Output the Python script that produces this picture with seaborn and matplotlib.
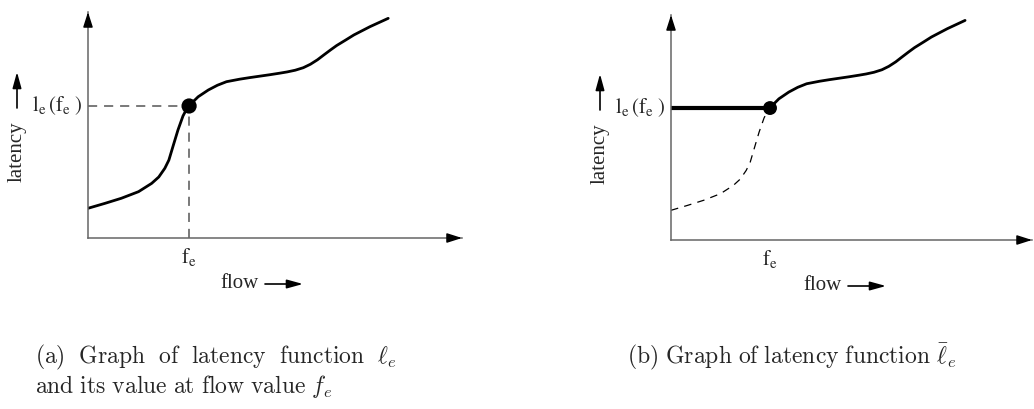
import matplotlib
matplotlib.use("Agg")
import matplotlib.pyplot as plt
import seaborn as sns
import numpy as np

# ---- data ----
flow = [0.00, 0.17, 0.33, 0.50, 0.63, 0.70, 0.76, 0.80, 0.84, 0.89, 0.94,
        0.97, 1.00, 1.05, 1.09, 1.19, 1.28, 1.37, 1.50, 1.60, 1.70, 1.80,
        1.90, 1.97, 2.05, 2.13, 2.20, 2.27, 2.33, 2.40, 2.46, 2.55, 2.63,
        2.79, 2.97]
latency = [0.225, 0.263, 0.301, 0.351, 0.414, 0.462, 0.528, 0.590, 0.692,
           0.818, 0.925, 0.968, 1.000, 1.040, 1.070, 1.121, 1.157, 1.184,
           1.203, 1.215, 1.226, 1.237, 1.249, 1.258, 1.271, 1.290, 1.316,
           1.350, 1.385, 1.425, 1.458, 1.500, 1.538, 1.601, 1.664]
f_e = 1.00
l_fe = 1.00

W, H = 1034, 409
sns.set_theme(style="white")
plt.rcParams["font.family"] = ["Liberation Serif", "DejaVu Serif"]
plt.rcParams["lines.solid_joinstyle"] = "round"
plt.rcParams["lines.solid_capstyle"] = "round"

fig = plt.figure(figsize=(W / 100, H / 100), dpi=100)
fig.patch.set_facecolor("white")

LBL = 15


def make_axes(x0, y0, x1, ytop, xmax, ymax):
    ax = fig.add_axes([x0 / W, (H - y0) / H, (x1 - x0) / W, (y0 - ytop) / H])
    ax.set_xlim(0, xmax)
    ax.set_ylim(0, ymax)
    ax.set_facecolor("none")
    for s in ["top", "right"]:
        ax.spines[s].set_visible(False)
    for s in ["left", "bottom"]:
        ax.spines[s].set_color("#666666")
        ax.spines[s].set_linewidth(1.1)
    ax.set_xticks([])
    ax.set_yticks([])
    ax.annotate("", xy=(1, 0), xycoords="axes fraction", xytext=(0.97, 0),
                arrowprops=dict(arrowstyle="-|>,head_length=0.75,head_width=0.24",
                                color="black", lw=1.1, shrinkA=0, shrinkB=0),
                annotation_clip=False)
    ax.annotate("", xy=(0, 1), xycoords="axes fraction", xytext=(0, 0.95),
                arrowprops=dict(arrowstyle="-|>,head_length=0.75,head_width=0.24",
                                color="black", lw=1.1, shrinkA=0, shrinkB=0),
                annotation_clip=False)
    return ax


def axis_labels(ax, ox, oy):
    fb = H - oy
    ax.annotate("latency", xy=(ox - 71, fb + 86), xycoords="figure pixels",
                rotation=90, ha="center", va="center", fontsize=LBL)
    ax.annotate("", xy=(ox - 71, fb + 166), xycoords="figure pixels",
                xytext=(ox - 71, fb + 130), textcoords="figure pixels",
                arrowprops=dict(arrowstyle="-|>,head_length=0.8,head_width=0.22",
                                color="black", lw=1.2, shrinkA=0, shrinkB=0))
    ax.annotate("flow", xy=(ox + 152, fb - 46), xycoords="figure pixels",
                ha="center", va="center", fontsize=LBL)
    ax.annotate("", xy=(ox + 215, fb - 46), xycoords="figure pixels",
                xytext=(ox + 177, fb - 46), textcoords="figure pixels",
                arrowprops=dict(arrowstyle="-|>,head_length=0.8,head_width=0.22",
                                color="black", lw=1.2, shrinkA=0, shrinkB=0))
    ax.annotate(r"$\mathrm{l_e\,(f_e\;)}$", xy=(0, l_fe), xycoords="data",
                xytext=(-6, 0), textcoords="offset pixels", ha="right",
                va="center", fontsize=LBL, math_fontfamily="stix")
    ax.annotate(r"$\mathrm{f_e}$", xy=(f_e, 0), xycoords="data",
                xytext=(0, -19), textcoords="offset pixels", ha="center",
                va="center", fontsize=LBL, math_fontfamily="stix")


# ---- panel (a) ----
axA = make_axes(88, 238, 462, 12, 3.70, 1.712)
axA.plot([0, f_e], [l_fe, l_fe], color="#555555", lw=1.1, dashes=(6, 4.5))
axA.plot([f_e, f_e], [0, l_fe], color="#555555", lw=1.1, dashes=(6, 4.5))
sns.lineplot(x=flow, y=latency, ax=axA, sort=False, color="black", lw=2.0,
             estimator=None)
sns.scatterplot(x=[f_e], y=[l_fe], ax=axA, color="black", s=120,
                edgecolor="none", zorder=5)
axis_labels(axA, 88, 238)
axA.set_xlabel(""); axA.set_ylabel("")

# ---- panel (b) ----
i_fe = flow.index(f_e)
axB = make_axes(671, 240, 1032, 15, 3.646, 1.705)
sns.lineplot(x=flow[:i_fe + 1], y=latency[:i_fe + 1], ax=axB, sort=False,
             color="black", lw=0.9, estimator=None)
axB.lines[-1].set_dashes((6, 5))
sns.lineplot(x=flow[i_fe:], y=latency[i_fe:], ax=axB, sort=False,
             color="black", lw=2.0, estimator=None)
sns.lineplot(x=[0, f_e], y=[l_fe, l_fe], ax=axB, color="black", lw=3.0,
             estimator=None)
sns.scatterplot(x=[f_e], y=[l_fe], ax=axB, color="black", s=100,
                edgecolor="none", zorder=5)
axis_labels(axB, 671, 240)
axB.set_xlabel(""); axB.set_ylabel("")

# ---- captions ----
cap_kw = dict(fontsize=17, math_fontfamily="cm", ha="left", va="center")
fig.text(35 / W, (H - 357) / H,
         r"$\mathrm{(a)\ \ Graph\ \ of\ \ latency\ \ function}\ \ \ell_e$", **cap_kw)
fig.text(35 / W, (H - 387) / H,
         r"$\mathrm{and\ its\ value\ at\ flow\ value}\ f_e$", **cap_kw)
fig.text(627 / W, (H - 357) / H,
         r"$\mathrm{(b)\ Graph\ of\ latency\ function}\ \bar{\ell}_e$", **cap_kw)

fig.savefig("out.png", dpi=100, facecolor="white")
